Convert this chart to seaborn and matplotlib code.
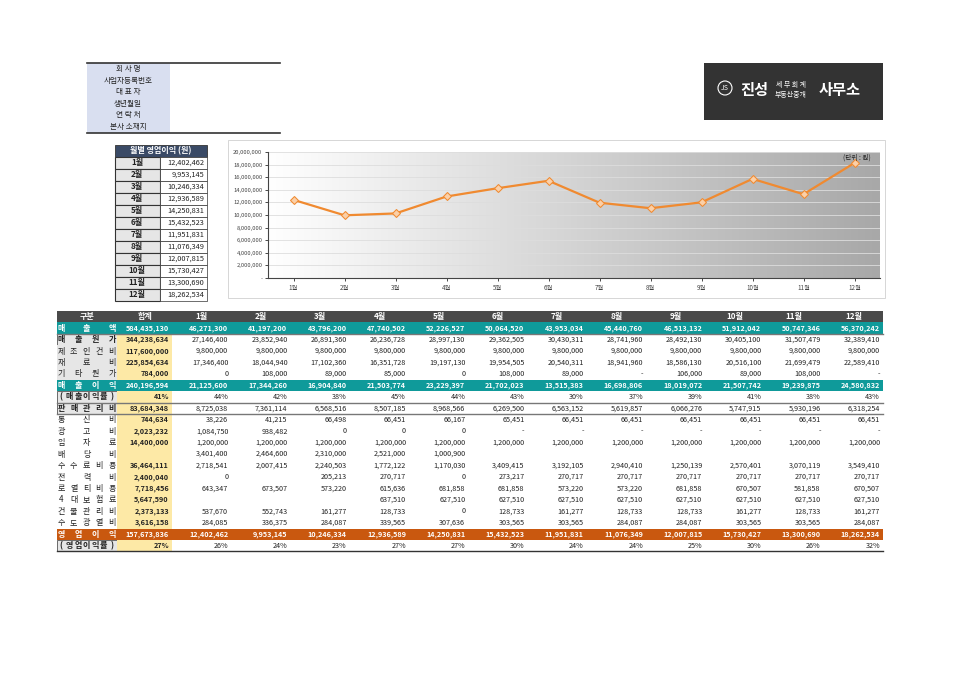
import matplotlib
matplotlib.use("Agg")
import matplotlib.pyplot as plt
from matplotlib.patches import Rectangle
import numpy as np
import pandas as pd
import seaborn as sns

plt.rcParams["font.family"] = ["Noto Sans CJK JP", "DejaVu Sans"]

months = ["1월","2월","3월","4월","5월","6월","7월","8월","9월","10월","11월","12월"]
op_profit = [12402462, 9953145, 10246334, 12936589, 14250831, 15432523,
             11951831, 11076349, 12007815, 15730427, 13300690, 18262534]
info_labels = ["회 사 명","사업자등록번호","대 표 자","생년월일","연 락 처","본사 소재지"]
y_ticks = list(range(0, 20000001, 2000000))

row_labels = ["매출액","매출원가","제조인건비","재료비","기타원가","매출이익",
              "(매출이익률)","판매관리비","통신비","광고비","임차료","배당비",
              "수수료비용","전력비","로열티비용","4대보험료","건물관리비",
              "수도광열비","영업이익","(영업이익률)"]
totals = ["584,435,130","344,238,634","117,600,000","225,854,634","784,000","240,196,594",
          "41%","83,684,348","744,634","2,023,232","14,400,000","","36,464,111","2,400,040",
          "7,718,456","5,647,590","2,373,133","3,616,158","157,673,836","27%"]
sales = [46271300,41197200,43796200,47740502,52226527,50064520,43953034,45440760,46513132,51912042,50747346,56370242]
cogs = [27146400,23852940,26891360,26236728,28997130,29362505,30430311,28741960,28492130,30405100,31507479,32389410]
labor = [9800000]*12
material = [17346400,18044940,17102360,16351728,19197130,19954505,20540311,18941960,18586130,20516100,21699479,22589410]
other_cost = [0,108000,89000,85000,0,108000,89000,None,106000,89000,108000,None]
gross = [21125600,17344260,16904840,21503774,23229397,21702023,13515383,16698806,18019072,21507742,19239875,24580832]
gross_rate = ["44%","42%","38%","45%","44%","43%","30%","37%","39%","41%","38%","43%"]
sga = [8725038,7361114,6568516,8507185,8968566,6269500,6563152,5619857,6066276,5747915,5930196,6318254]
telecom = [38226,41215,66498,66451,66167,65451,66451,66451,66451,66451,66451,66451]
advert = [1084750,938482,0,0,0,None,None,None,None,None,None,None]
rent = [1200000]*12
dividend = [3401400,2464600,2310000,2521000,1000900,"","","","","","",""]
fees = [2718541,2007415,2240503,1772122,1170030,3409415,3192105,2940410,1250139,2570401,3070119,3549410]
power = [0,"",205213,270717,0,273217,270717,270717,270717,270717,270717,270717]
royalty = [643347,673507,573220,615636,681858,681858,573220,573220,681858,670507,581858,670507]
insurance = ["","","",637510,627510,627510,627510,627510,627510,627510,627510,627510]
building = [537670,552743,161277,128733,0,128733,161277,128733,128733,161277,128733,161277]
utility = [284085,336375,284087,339565,307636,303565,303565,284087,284087,303565,303565,284087]
op_rate = ["26%","24%","23%","27%","27%","30%","24%","24%","25%","30%","26%","32%"]

def fmt(v):
    if v is None: return "-"
    if isinstance(v, str): return v
    return f"{v:,}"

rows = [sales,cogs,labor,material,other_cost,gross,gross_rate,sga,telecom,advert,rent,dividend,
        fees,power,royalty,insurance,building,utility,op_profit,op_rate]

W, H = 966, 683
fig = plt.figure(figsize=(W/100, H/100), dpi=100)
bg = fig.add_axes([0, 0, 1, 1])
bg.set_xlim(0, W); bg.set_ylim(H, 0); bg.axis("off")

def rect(x, y, w, h, fc, ec="none", lw=0.6, z=1):
    bg.add_patch(Rectangle((x, y), w, h, facecolor=fc, edgecolor=ec, lw=lw, zorder=z))

def txt(x, y, s, size=5.2, color="#222", ha="center", weight="normal"):
    bg.text(x, y, s, fontsize=size, color=color, ha=ha, va="center", weight=weight, zorder=5)

def spread(xa, xb, y, s, **kw):
    n = len(s)
    if n == 1:
        txt((xa+xb)/2, y, s, **kw); return
    for k, ch in enumerate(s):
        txt(xa + (xb-xa)*k/(n-1), y, ch, **kw)

# company info block
rect(87, 63, 83, 70, "#d9dff0")
bg.plot([87, 280], [63, 63], color="#333", lw=1.2)
bg.plot([87, 280], [133, 133], color="#333", lw=1.2)
for i, s in enumerate(info_labels):
    txt(128, 69 + i*11.6, s, size=5.5)

# logo
rect(704, 63, 179, 57, "#333333")
bg.add_patch(plt.Circle((725, 88), 7, fill=False, ec="white", lw=0.8, zorder=3))
txt(725, 88, "JS", size=5, color="white")
txt(754, 90, "진성", size=11, color="white", weight="bold")
txt(791, 85, "세 무 회 계", size=5, color="white")
txt(791, 95, "부동산중개", size=5, color="white")
txt(840, 90, "사무소", size=11, color="white", weight="bold")

# monthly side table
rect(115, 145, 92, 12, "#3a4a66", ec="#333")
txt(161, 151, "월별 영업이익 (원)", size=5.8, color="white", weight="bold")
for i, (m, v) in enumerate(zip(months, op_profit)):
    y = 157 + i*12
    rect(115, y, 45, 12, "#e6e6e6", ec="#333", lw=0.8)
    rect(160, y, 47, 12, "white", ec="#333", lw=0.5)
    txt(137, y+6, m, size=5.8, weight="bold")
    txt(204, y+6, fmt(v), size=5.3, ha="right")

# chart panel
rect(228, 140, 657, 158, "white", ec="#d0d0d0")
ax = fig.add_axes([268/W, 1-278/H, (880-268)/W, (278-152)/H])
grad = np.linspace(0, 1, 256)[None, :]
ax.imshow(grad, cmap=matplotlib.colors.LinearSegmentedColormap.from_list("g", ["#ffffff", "#a8a8a8"]),
          aspect="auto", extent=[-0.5, 11.5, 0, 20000000], zorder=0)
df = pd.DataFrame({"month": np.arange(12), "profit": op_profit})
sns.lineplot(data=df, x="month", y="profit", ax=ax, color="#f08a30", lw=1.6,
             marker="D", markersize=4, markerfacecolor="#fbd0a8", markeredgecolor="#f08a30", zorder=3)
ax.set_xlim(-0.5, 11.5); ax.set_ylim(0, 20000000)
ax.set_yticks(y_ticks)
ax.set_yticklabels(["-"] + [f"{t:,}" for t in y_ticks[1:]], fontsize=4.2, color="#444")
ax.set_xticks(range(12)); ax.set_xticklabels(months, fontsize=4.5, color="#444")
for t in y_ticks[1:]:
    ax.axhline(t, color="#dddddd", lw=0.6, zorder=1)
ax.set_xlabel(""); ax.set_ylabel("")
for s in ["top", "right"]: ax.spines[s].set_visible(False)
ax.spines["left"].set_color("#444"); ax.spines["bottom"].set_color("#444")
ax.tick_params(length=2, width=0.5, pad=2)
ax.text(0.985, 0.985, "(단위 : 원)", transform=ax.transAxes, fontsize=4.8, color="#222",
        ha="right", va="top", zorder=6)

# main table
x0, xl, xt = 57, 117, 172
cw = (883 - xt) / 12
y0, rh = 311, 11.45
rect(x0, y0, 883-x0, rh, "#4a4a4a")
txt((x0+xl)/2, y0+rh/2, "구분", color="white", size=5.8, weight="bold")
txt((xl+xt)/2, y0+rh/2, "합계", color="white", size=5.8, weight="bold")
for j, m in enumerate(months):
    txt(xt + cw*(j+0.5), y0+rh/2, m, color="white", size=5.8, weight="bold")
teal, orange = "#0f9a9a", "#c9580f"
for i, (lab, tot, vals) in enumerate(zip(row_labels, totals, rows)):
    y = y0 + rh*(i+1)
    special = i in (0, 5, 18)
    boxed = i in (1, 6, 7, 19)
    fc = teal if i in (0, 5) else (orange if i == 18 else None)
    if fc:
        rect(x0, y, 883-x0, rh, fc)
    else:
        lab_fc = "#e6e6e6" if i in (1, 2, 3, 4, 6, 7, 19) else "white"
        rect(x0, y, xl-x0, rh, lab_fc, ec="#555" if boxed else "none")
        rect(xl, y, xt-xl, rh, "#fde9a6")
    tc = "white" if special else "#222"
    wt = "bold" if (special or boxed) else "normal"
    spread(x0+4, xl-5, y+rh/2, lab, color=tc, size=5.8, weight=wt)
    txt(xt-3, y+rh/2, tot, color=tc, size=5.2, ha="right", weight="bold")
    for j, v in enumerate(vals):
        txt(xt + cw*(j+1) - 3, y+rh/2, fmt(v), color=tc, size=5.2, ha="right",
            weight="bold" if special else "normal")
    if i in (0, 6, 7):
        bg.plot([x0, 883], [y+rh, y+rh], color="#777", lw=1.0, zorder=4)
bg.plot([x0, 883], [y0 + rh*21, y0 + rh*21], color="#333", lw=1.0, zorder=4)

fig.savefig("out.png", dpi=100, facecolor="white")
